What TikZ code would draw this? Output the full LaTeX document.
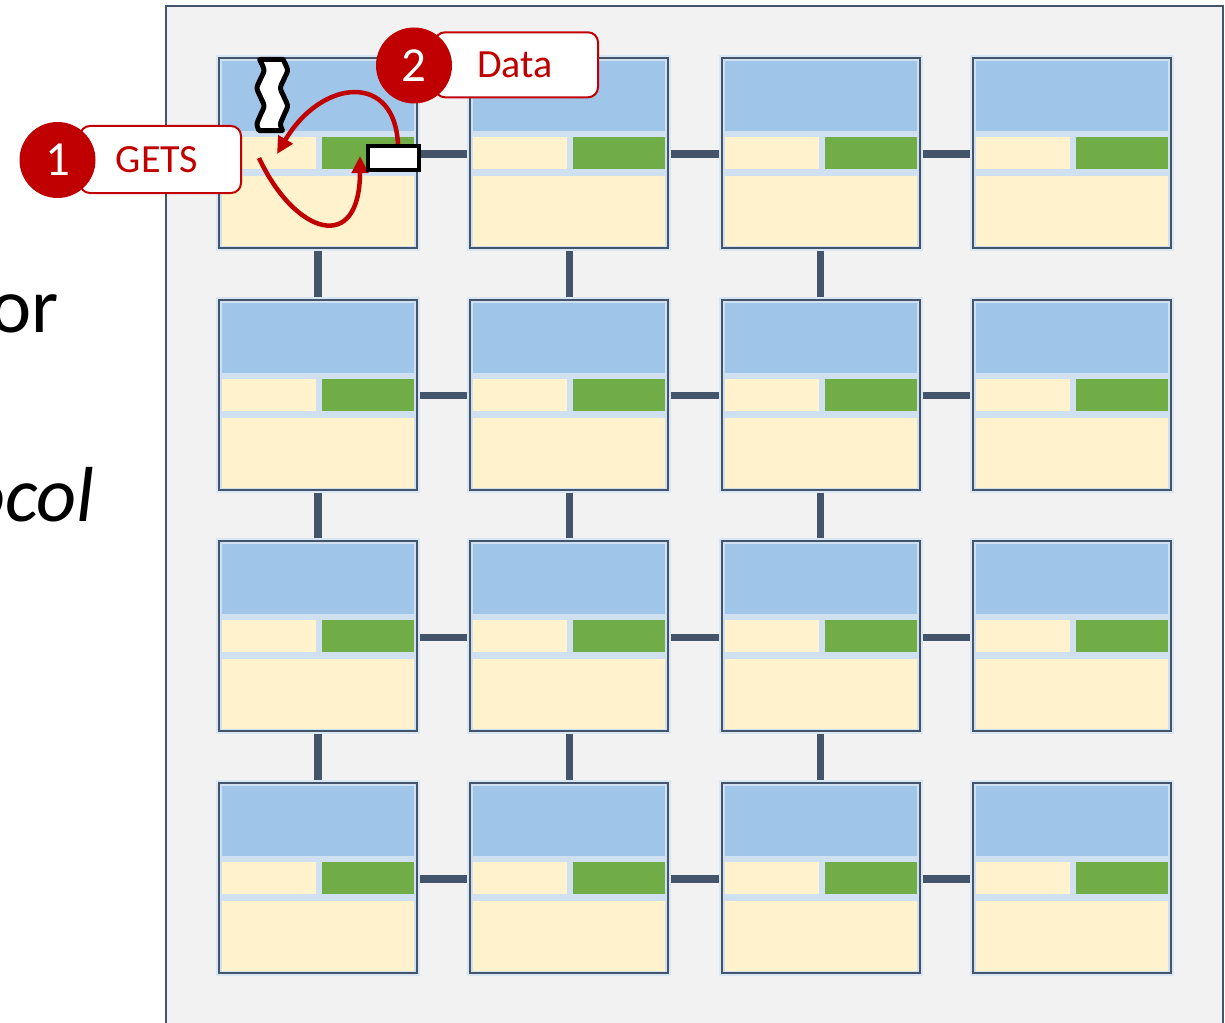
\documentclass[tikz,border=0pt]{standalone}
\usepackage{fontspec}
\setmainfont{Carlito}
\usetikzlibrary{arrows.meta}
\definecolor{slate}{HTML}{44546A}
\definecolor{panel}{HTML}{F2F2F2}
\definecolor{tblue}{HTML}{9FC5E8}
\definecolor{tcream}{HTML}{FFF2CC}
\definecolor{tgreen}{HTML}{70AD47}
\definecolor{tpale}{HTML}{CFE0F1}
\definecolor{glow}{HTML}{D9E6F3}
\definecolor{dred}{HTML}{C00000}
\begin{document}
\begin{tikzpicture}[x=1pt,y=-1pt,
  tile/.style={draw=slate, line width=2pt, fill=tpale, minimum width=198pt, minimum height=190pt,
    inner sep=0pt, outer sep=0pt, anchor=north west, preaction={draw=glow, line width=6pt}},
  link/.style={draw=slate, line width=7.5pt, shorten >=3pt, shorten <=3pt},
  numdot/.style={circle, fill=dred, minimum size=76pt, inner sep=0pt, text=white, font=\fontsize{49}{49}\selectfont},
  tag/.style={draw=dred, line width=2pt, fill=white, rounded corners=10pt, inner sep=0pt,
    text=dred, font=\fontsize{40}{40}\selectfont},
  redarrow/.style={draw=dred, line width=4.5pt, -{Triangle[length=17pt,width=16pt]}},
  bigtext/.style={font=\fontsize{78}{78}\selectfont, anchor=base east, inner sep=0pt},
]
\useasboundingbox (0,0) rectangle (1225,1022);
\clip (0,0) rectangle (1225,1022);
% panel
\draw[draw=slate, line width=2pt, fill=panel] (166,6) rectangle (1223,1060);
% left texts
\node[bigtext] (txtor) at (59,332) {or};
\node[bigtext, font=\fontsize{78}{78}\selectfont\itshape] (txtocol) at (95,521) {ocol};
% tiles
\foreach \i in {0,1,2,3} {
  \foreach \j in {0,1,2,3} {
    \pgfmathsetmacro\px{219+251.33*\i}
    \pgfmathsetmacro\py{58+241.67*\j}
    \node[tile] (t\i\j) at (\px,\py) {};
    \fill[tblue] ([shift={(3,3)}]t\i\j.north west) rectangle ([shift={(195,73)}]t\i\j.north west);
    \fill[tcream] ([shift={(3,79)}]t\i\j.north west) rectangle ([shift={(97,111)}]t\i\j.north west);
    \fill[tgreen] ([shift={(103,79)}]t\i\j.north west) rectangle ([shift={(195,111)}]t\i\j.north west);
    \fill[tcream] ([shift={(3,118)}]t\i\j.north west) rectangle ([shift={(195,188)}]t\i\j.north west);
  }
}
% horizontal links
\foreach \j in {0,1,2,3} {
  \foreach \i [evaluate=\i as \n using int(\i+1)] in {0,1,2} {
    \draw[link] ([yshift=-1pt]t\i\j.east) -- ([yshift=-1pt]t\n\j.west);
  }
}
% vertical links
\foreach \i in {0,1,2} {
  \foreach \j [evaluate=\j as \n using int(\j+1)] in {0,1,2} {
    \draw[link] (t\i\j.south) -- (t\i\n.north);
  }
}
% squiggle
\filldraw[draw=black, fill=white, line width=5pt, line join=round]
  (259.6,59.5) -- plot[smooth] coordinates {(283,59.5) (287.5,70) (284,79) (280.5,88) (284,97) (287.5,106) (284,115) (280.5,124) (282.5,130.5)}
  -- plot[smooth] coordinates {(259,130.5) (257,124) (260.5,115) (264,106) (260.5,97) (257,88) (260.5,79) (264,70) (259.6,59.5)} -- cycle;
% buffer box and arrows
\node[draw=black, fill=white, line width=4pt, minimum width=51pt, minimum height=24pt, inner sep=0pt, outer sep=0pt] (buf) at (393.5,158) {};
\coordinate (aend) at (277,154);
\coordinate (bstart) at (259,158);
\coordinate (bend) at (360,156);
\draw[redarrow] ([xshift=4.5pt]buf.north) .. controls (396,72) and (322,78) .. (aend);
\draw[redarrow] (bstart) .. controls (295,235) and (360,255) .. (bend);
\node[draw=black, fill=white, line width=4pt, minimum width=51pt, minimum height=24pt, inner sep=0pt, outer sep=0pt] at (buf) {};
% callout 2
\node[tag, minimum width=163pt, minimum height=65pt] (databox) at (516.5,64.8) {\hspace*{-3pt}Data};
\node[numdot] (n2) at (414,65.5) {2};
% callout 1
\node[tag, minimum width=161pt, minimum height=67pt] (getsbox) at (160.5,159.5) {\hspace*{-7pt}GETS};
\node[numdot] (n1) at (57.5,160) {1};
\end{tikzpicture}
\end{document}
